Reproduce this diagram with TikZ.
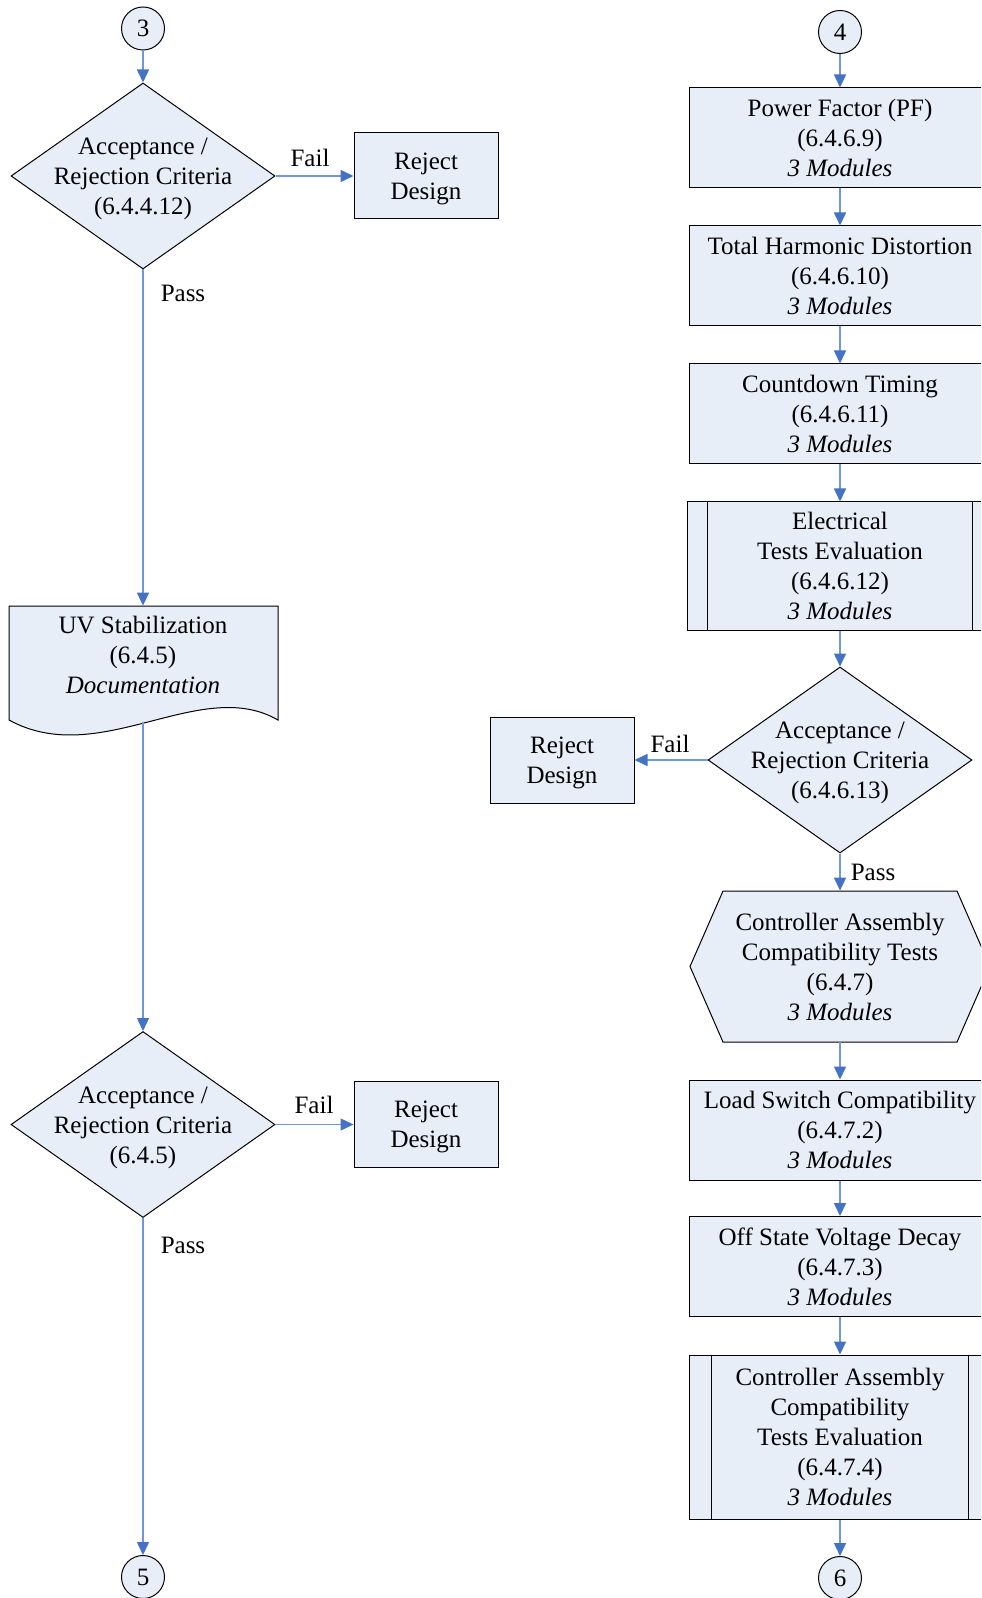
\documentclass[tikz,border=0pt]{standalone}
\usepackage{fontspec}
\setmainfont{Liberation Serif}
\usetikzlibrary{shapes.geometric,arrows.meta,calc}
\definecolor{fillc}{HTML}{E8EEF8}
\definecolor{linec}{HTML}{7098D6}
\definecolor{tipc}{HTML}{4472C4}
\begin{document}
\begin{tikzpicture}[x=0.5pt,y=-0.5pt,
  font=\fontsize{12.5pt}{15pt}\selectfont,
  box/.style={draw=black, line width=0.5pt, fill=fillc, rectangle, minimum width=151pt, minimum height=50pt, inner sep=0pt, align=center},
  rej/.style={draw=black, line width=0.5pt, fill=fillc, rectangle, minimum width=72pt, minimum height=43pt, inner sep=0pt, align=center},
  circ/.style={circle, draw=black, line width=0.5pt, fill=fillc, minimum size=21.5pt, inner sep=0pt},
  dia/.style={diamond, draw=black, line width=0.5pt, fill=fillc, minimum width=132pt, minimum height=93pt, inner sep=0pt},
  shapeline/.style={draw=black, line width=0.5pt, fill=fillc},
  txt/.style={align=center, inner sep=0pt},
  lbl/.style={inner sep=0pt},
  conn/.style={draw=linec, line width=0.75pt, -{Triangle[length=6.5pt,width=6pt,color=tipc]}}
]
\useasboundingbox (0,0) rectangle (981,1598);
\clip (0,0) rectangle (981,1598);

% ---------- left column ----------
\node[circ] (c3) at (143,28.5) {3};
\node[dia] (d1) at (143,176) {};
\node[txt] (d1t) at (143,179) {Acceptance /\\Rejection Criteria\\(6.4.4.12)};
\node[rej] (r1) at (426,176) {};
\node[txt] (r1t) at (426,179) {Reject\\Design};
\node[lbl] (f1) at (310,158) {Fail};
\node[lbl] (p1) at (183,293) {Pass};

% document shape
\path[shapeline] (9,606) -- (278,606) -- (278,720)
  .. controls (200,675) and (100,770) .. (9,720) -- cycle;
\node[txt, minimum width=134pt, minimum height=58pt] (doc) at (143,664) {};
\node[txt] (doct) at (143,655) {UV Stabilization\\(6.4.5)\\\textit{Documentation}};
\coordinate (docb) at (143,722);

\node[dia] (d2) at (143,1124.5) {};
\node[txt] (d2t) at (143,1127.5) {Acceptance /\\Rejection Criteria\\(6.4.5)};
\node[rej] (r2) at (426,1124.5) {};
\node[txt] (r2t) at (426,1127) {Reject\\Design};
\node[lbl] (f2) at (314,1105) {Fail};
\node[lbl] (p2) at (183,1245) {Pass};
\node[circ] (c5) at (143,1577) {5};

\draw[conn] (c3) -- (d1.north);
\draw[conn] (d1.east) -- (r1.west);
\draw[conn] (d1.south) -- (doc.north);
\draw[conn] (docb) -- (d2.north);
\draw[conn] (d2.east) -- (r2.west);
\draw[conn] (d2.south) -- (c5.north);

% ---------- right column ----------
\node[circ] (c4) at (840,32) {4};
\node[box] (pf) at (840,138) {Power Factor (PF)\\(6.4.6.9)\\\textit{3 Modules}};
\node[box] (thd) at (840,276) {Total Harmonic Distortion\\(6.4.6.10)\\\textit{3 Modules}};
\node[box] (ct) at (840,414) {Countdown Timing\\(6.4.6.11)\\\textit{3 Modules}};
\node[box, minimum width=153pt, minimum height=64pt] (ete) at (840,566) {Electrical\\Tests Evaluation\\(6.4.6.12)\\\textit{3 Modules}};
\draw[line width=0.5pt] ($(ete.north west)+(21,0)$) -- ($(ete.south west)+(21,0)$);
\draw[line width=0.5pt] ($(ete.north east)+(-21,0)$) -- ($(ete.south east)+(-21,0)$);

\node[dia] (d3) at (840,760) {};
\node[txt] (d3t) at (840,763) {Acceptance /\\Rejection Criteria\\(6.4.6.13)};
\node[rej] (r3) at (562,760) {};
\node[txt] (r3t) at (562,763) {Reject\\Design};
\node[lbl] (f3) at (670,744) {Fail};
\node[lbl] (p3) at (873,872) {Pass};

% hexagon
\path[shapeline] (690,966.5) -- (723,891) -- (957,891) -- (990,966.5) -- (957,1042) -- (723,1042) -- cycle;
\node[txt, minimum width=116pt, minimum height=75.5pt] (hex) at (840,966.5) {Controller Assembly\\Compatibility Tests\\(6.4.7)\\\textit{3 Modules}};

\node[box] (ls) at (840,1130) {Load Switch Compatibility\\(6.4.7.2)\\\textit{3 Modules}};
\node[box] (osvd) at (840,1266.5) {Off State Voltage Decay\\(6.4.7.3)\\\textit{3 Modules}};
\node[box, minimum height=82pt] (cacte) at (840,1437) {Controller Assembly\\Compatibility\\Tests Evaluation\\(6.4.7.4)\\\textit{3 Modules}};
\draw[line width=0.5pt] ($(cacte.north west)+(23,0)$) -- ($(cacte.south west)+(23,0)$);
\draw[line width=0.5pt] ($(cacte.north east)+(-23,0)$) -- ($(cacte.south east)+(-23,0)$);
\node[circ] (c6) at (840,1578) {6};

\draw[conn] (c4) -- (pf.north);
\draw[conn] (pf.south) -- (thd.north);
\draw[conn] (thd.south) -- (ct.north);
\draw[conn] (ct.south) -- (ete.north);
\draw[conn] (ete.south) -- (d3.north);
\draw[conn] (d3.west) -- (r3.east);
\draw[conn] (d3.south) -- (hex.north);
\draw[conn] (hex.south) -- (ls.north);
\draw[conn] (ls.south) -- (osvd.north);
\draw[conn] (osvd.south) -- (cacte.north);
\draw[conn] (cacte.south) -- (c6.north);
\end{tikzpicture}
\end{document}
